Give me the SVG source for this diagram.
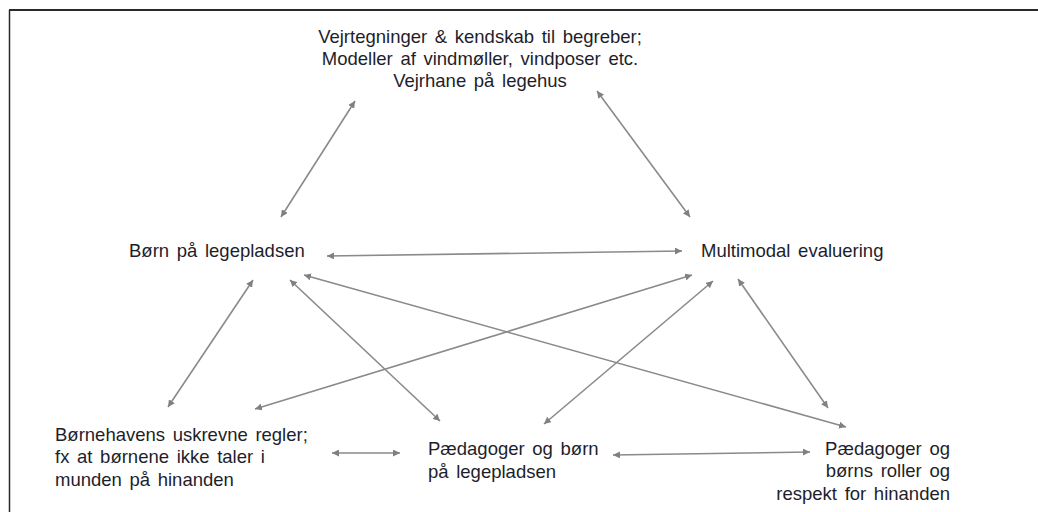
<svg xmlns="http://www.w3.org/2000/svg" width="1038" height="512" viewBox="0 0 1038 512">
<defs>
<marker id="ah" viewBox="0 0 10 10" refX="10" refY="5" markerWidth="7" markerHeight="7" markerUnits="userSpaceOnUse" orient="auto-start-reverse">
<path d="M0,0 L10,5 L0,10 z" fill="#808080"/>
</marker>
<style>
.t{font-family:"Liberation Sans",Arial,sans-serif;font-size:18.5px;word-spacing:2.5px;fill:#1e1e2a;}
.c{stroke:#8a8a8a;stroke-width:1.6;fill:none;marker-start:url(#ah);marker-end:url(#ah);}
.f{stroke:#2a2a2a;fill:none;}
</style>
</defs>
<rect width="1038" height="512" fill="#fff"/>
<g id="frame">
<line class="f" x1="9" y1="10" x2="1038" y2="10" stroke-width="2"/>
<line class="f" x1="9.5" y1="10" x2="9.5" y2="512" stroke-width="1.5"/>
</g>
<g id="connectors">
<line class="c" x1="355" y1="101" x2="281" y2="217"/>
<line class="c" x1="597" y1="91" x2="690" y2="217"/>
<line class="c" x1="327" y1="256" x2="682" y2="251"/>
<line class="c" x1="253" y1="280" x2="168" y2="407"/>
<line class="c" x1="290" y1="280" x2="440" y2="421"/>
<line class="c" x1="304" y1="275" x2="846" y2="427"/>
<line class="c" x1="692" y1="275" x2="255" y2="409"/>
<line class="c" x1="713" y1="281" x2="544" y2="424"/>
<line class="c" x1="738" y1="279" x2="828" y2="408"/>
<line class="c" x1="332" y1="453" x2="400" y2="453"/>
<line class="c" x1="613" y1="455" x2="810" y2="452"/>
</g>
<g id="n-top">
<text class="t" text-anchor="middle" x="480" y="43">Vejrtegninger &amp; kendskab til begreber;</text>
<text class="t" text-anchor="middle" x="480" y="65">Modeller af vindmøller, vindposer etc.</text>
<text class="t" text-anchor="middle" x="480" y="87">Vejrhane på legehus</text>
</g>
<g id="n-born">
<text class="t" x="129" y="257">Børn på legepladsen</text>
</g>
<g id="n-multimodal">
<text class="t" x="701" y="257">Multimodal evaluering</text>
</g>
<g id="n-regler">
<text class="t" x="55" y="441">Børnehavens uskrevne regler;</text>
<text class="t" x="55" y="463">fx at børnene ikke taler i</text>
<text class="t" x="55" y="486">munden på hinanden</text>
</g>
<g id="n-paedagoger">
<text class="t" x="428" y="455">Pædagoger og børn</text>
<text class="t" x="428" y="478">på legepladsen</text>
</g>
<g id="n-roller">
<text class="t" text-anchor="end" x="950" y="455">Pædagoger og</text>
<text class="t" text-anchor="end" x="950" y="477">børns roller og</text>
<text class="t" text-anchor="end" x="950" y="500">respekt for hinanden</text>
</g>
</svg>
